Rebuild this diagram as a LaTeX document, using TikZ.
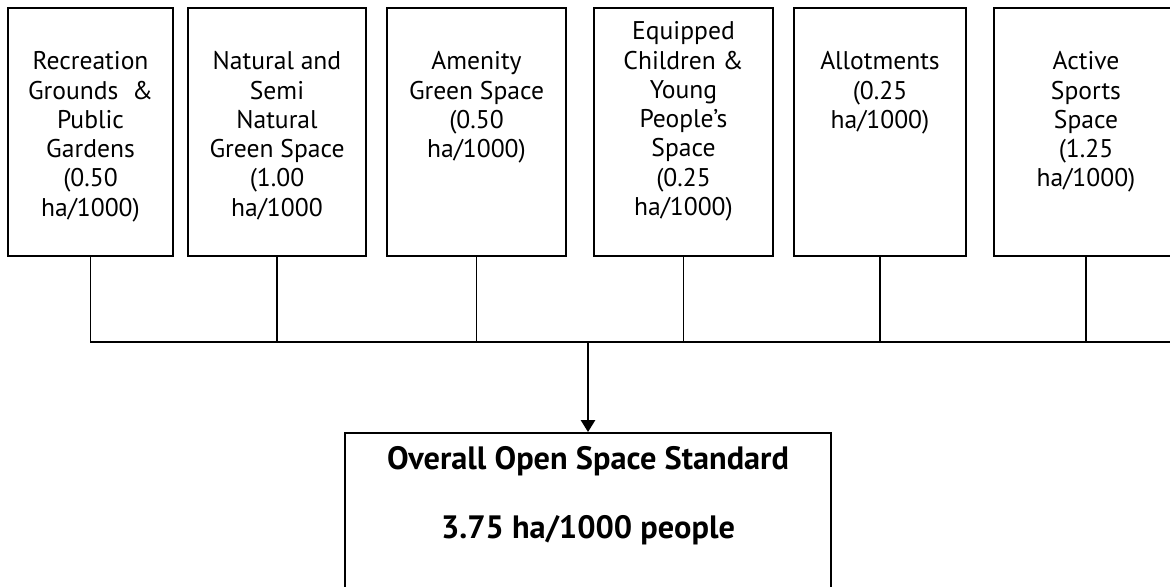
\documentclass[tikz,border=0pt]{standalone}
\usepackage{fontspec}
\setmainfont{PT Sans}
\usetikzlibrary{arrows.meta,positioning}

\begin{document}
\begin{tikzpicture}[>={Triangle[width=0.36cm,length=0.3cm]},
    cat/.style={draw,line width=1.2pt,anchor=north,minimum height=6.2cm,inner sep=0pt},
    cattxt/.style={align=center,inner sep=0pt,font=\fontsize{18.2}{20.8}\selectfont},
    total/.style={draw,line width=1.2pt,anchor=north,minimum width=12.15cm,minimum height=5cm,inner sep=0pt},
    totaltxt/.style={align=center,inner sep=0pt,font=\fontsize{23}{27}\selectfont\bfseries},
    link/.style={line width=1.2pt}]
  \useasboundingbox (0,0) rectangle (29.25,-14.675);
  \clip (0,0) rectangle (29.25,-14.675);
  \node[cat,minimum width=4.125cm] (rec) at (2.2625,-0.175) {};
  \node[cat,minimum width=4.45cm] (nat) at (6.925,-0.175) {};
  \node[cat,minimum width=4.475cm] (amen) at (11.9125,-0.175) {};
  \node[cat,minimum width=4.475cm] (play) at (17.0875,-0.175) {};
  \node[cat,minimum width=4.3cm] (allot) at (22.0,-0.175) {};
  \node[cat,minimum width=4.6cm] (sport) at (27.15,-0.175) {};
  \node[cattxt,below=1.11cm of rec.north] (rectxt) {Recreation\\Grounds\ \ \&\\Public\\Gardens\\(0.50\\ha/1000)};
  \node[cattxt,below=1.11cm of nat.north] (nattxt) {Natural and\\Semi\\Natural\\Green Space\\(1.00\\ha/1000};
  \node[cattxt,below=1.11cm of amen.north] (amentxt) {Amenity\\Green Space\\(0.50\\ha/1000)};
  \node[cattxt,below=0.36cm of play.north] (playtxt) {Equipped\\Children \&\\Young\\People’s\\Space\\(0.25\\ha/1000)};
  \node[cattxt,below=1.11cm of allot.north] (allottxt) {Allotments\\(0.25\\ha/1000)};
  \node[cattxt,below=1.11cm of sport.north] (sporttxt) {Active\\Sports\\Space\\(1.25\\ha/1000)};
  \node[total] (std) at (14.7,-10.8) {};
  \node[totaltxt,below=0.365cm of std.north] (stdtxt) {Overall Open Space Standard\\[21.4pt]3.75 ha/1000 people};
  % joining bar
  \coordinate (bus) at (29.5,-8.55);
  \draw[link] (rec.south) |- (bus);
  \foreach \n in {nat,amen,play,allot,sport} \draw[link] (\n.south) -- (\n.south |- bus);
  \draw[link,->] (std.north |- bus) -- (std.north);
\end{tikzpicture}
\end{document}
